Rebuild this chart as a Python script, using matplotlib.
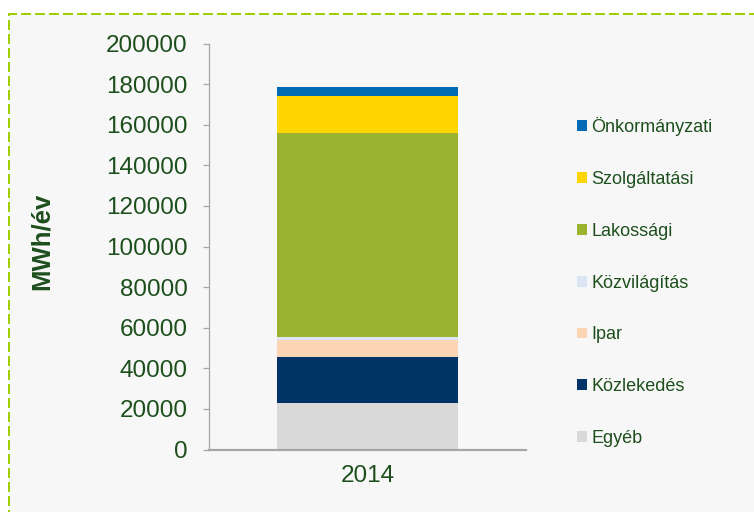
import numpy as np
import matplotlib.pyplot as plt
from matplotlib.patches import Rectangle, Patch

plt.rcParams['font.family'] = ['Liberation Sans', 'DejaVu Sans']

# adatok (alulról felfelé)
years = ['2014']
categories = ['Egyéb', 'Közlekedés', 'Ipar', 'Közvilágítás', 'Lakossági', 'Szolgáltatási', 'Önkormányzati']
values = [22800, 22900, 8400, 1200, 100600, 18100, 4600]
colors = ['#d9d9d9', '#003366', '#fcd5b5', '#dce6f2', '#9bb32e', '#ffd500', '#006ab4']
yticks = np.arange(0, 200001, 20000)

text_col = '#1d4f1d'
axis_col = '#a6a6a6'

fig = plt.figure(figsize=(7.54, 5.12), dpi=100)
fig.patch.set_facecolor('white')

# szaggatott zöld keret
frame = Rectangle((8.5 / 754, -0.05), 1.2, 1 - 14 / 512 + 0.05,
                  transform=fig.transFigure, facecolor='#f7f7f7',
                  edgecolor='#9fcf00', lw=1.44, linestyle=(0, (5, 2)), zorder=-5)
fig.add_artist(frame)

ax = fig.add_axes([209 / 754, 1 - 449.5 / 512, 317 / 754, 406 / 512])
ax.set_facecolor('none')
ax.set_zorder(2)

bottom = 0
for cat, val, col in zip(categories, values, colors):
    ax.bar(0, val, width=0.568, bottom=bottom, color=col, label=cat, zorder=2)
    bottom += val

ax.set_xlim(-0.5, 0.5)
ax.set_ylim(0, 200000)
ax.set_xticks([0])
ax.set_xticklabels(years)
ax.set_yticks(yticks)
ax.set_yticklabels([str(v) for v in yticks])

for s in ['top', 'right']:
    ax.spines[s].set_visible(False)
ax.spines['left'].set_color(axis_col)
ax.spines['left'].set_linewidth(0.9)
ax.spines['bottom'].set_color(axis_col)
ax.spines['bottom'].set_linewidth(1.6)

ax.tick_params(axis='y', length=4.3, width=0.9, color=axis_col, labelcolor=text_col,
               labelsize=17.5, pad=11)
ax.tick_params(axis='x', length=0, labelcolor=text_col, labelsize=17.5, pad=11)

fig.text(42 / 754, 1 - 241 / 512, 'MWh/év', rotation=90, ha='center', va='center',
         fontsize=18.5, fontweight='bold', color=text_col)

handles = [Patch(facecolor=c, edgecolor='none') for c in colors][::-1]
leg = fig.legend(handles, categories[::-1], loc='upper left',
                 bbox_to_anchor=(577 / 754, 1 - 117 / 512), frameon=False,
                 fontsize=13, handlelength=0.55, handleheight=0.55, handletextpad=0.25,
                 labelspacing=1.93, borderpad=0, borderaxespad=0)
for t in leg.get_texts():
    t.set_color(text_col)

fig.savefig('out.png', dpi=100)
